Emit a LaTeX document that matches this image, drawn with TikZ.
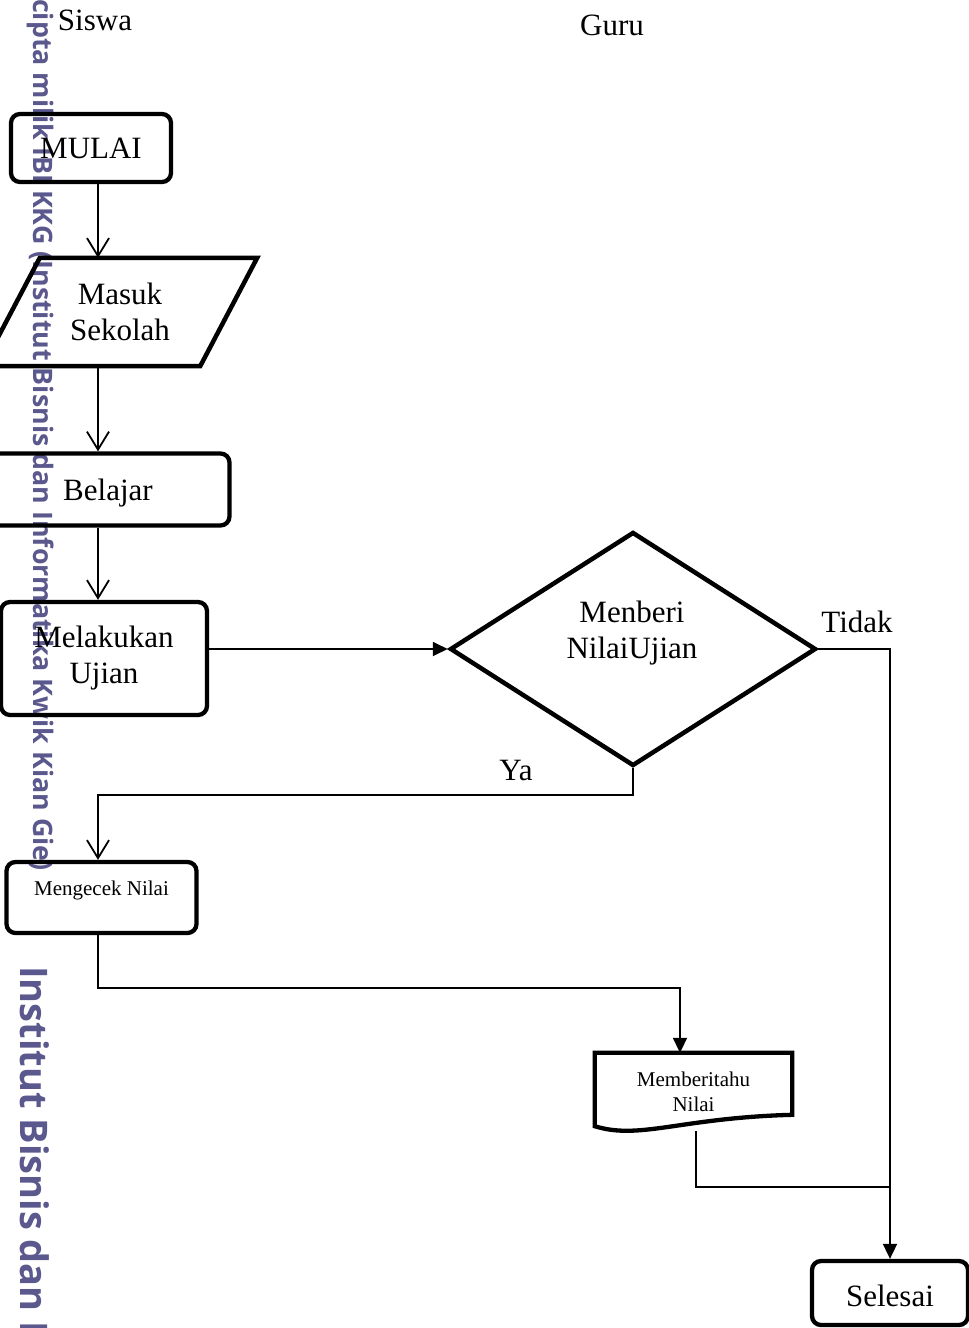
\documentclass[tikz,border=0pt]{standalone}
\usepackage{fontspec}
\setmainfont{Liberation Serif}
\newfontfamily\wmfont{Open Sans}
\usepackage{xcolor}
\usetikzlibrary{shapes.geometric,arrows.meta,positioning}
\definecolor{wmblue}{RGB}{90,88,140}

\tikzset{
  box/.style={draw, line width=4.3pt, rounded corners=9pt, align=center, inner sep=2pt},
  big/.style={font=\fontsize{31}{36}\selectfont},
  small/.style={font=\fontsize{21}{25}\selectfont},
  wm/.style={text=wmblue, rotate=-90, anchor=base west, inner sep=0pt},
  flow/.style={line width=1.8pt},
  vee/.style={flow, -{Straight Barb[length=18pt,width=22pt]}},
  tri/.style={flow, -{Triangle[length=15pt,width=14pt]}}
}

\begin{document}
\begin{tikzpicture}[x=1pt, y=-1pt]
    \useasboundingbox (0,0) rectangle (969,1328);

    % Watermark
    \node[wm, font=\wmfont\bfseries\fontsize{26.8}{27}\selectfont] (wmA) at (33,-1) {cipta milik IBI KKG (Institut Bisnis dan Informatika Kwik Kian Gie)};
    \node[wm, font=\wmfont\bfseries\fontsize{38}{38}\selectfont] (wmB) at (20,966) {Institut Bisnis dan I};

    % Lanes
    \node[big] (siswa) at (95,20) {Siswa};
    \node[big] (guru) at (612,25) {Guru};

    % Steps
    \node[box, big, minimum width=160pt, minimum height=68pt] (mulai) at (91,148) {MULAI};
    \node[big, minimum width=274pt, minimum height=108pt, align=center] (masuk) at (120,312) {Masuk\\Sekolah};
    \draw[line width=4.5pt] ([xshift=57pt]masuk.north west) -- (masuk.north east) -- ([xshift=-57pt]masuk.south east) -- (masuk.south west) -- cycle;
    \node[box, big, minimum width=243pt, minimum height=72pt, text depth=0pt] (belajar) at (108,489.5) {Belajar};
    \node[box, big, minimum width=206pt, minimum height=113pt] (ujian) at (104,658.5) {Melakukan\\Ujian};
    \node[draw, diamond, line width=4.5pt, minimum width=366pt, minimum height=234pt, inner sep=0pt] (nilai) at (633,649) {};
    \node[big, align=center] (nilaiText) at (632,633.5) {Menberi\\NilaiUjian};
    \node[box, small, minimum width=190pt, minimum height=71pt, text depth=18pt] (cek) at (101.5,897.5) {Mengecek Nilai};
    \node[small, minimum width=197pt, minimum height=78pt, align=center] (info) at (693.5,1092) {Memberitahu\\Nilai};
    \draw[line width=4.3pt] (info.north west) -- (info.north east) -- ++(0,62) .. controls +(-112,3) and +(45,14) .. ([yshift=5pt]info.south west) -- cycle;
    \node[box, big, minimum width=156pt, minimum height=64pt, text height=27pt, text depth=0pt] (selesai) at (890,1293) {Selesai};

    % Labels
    \node[big] (tidak) at (857,622) {Tidak};
    \node[big] (ya) at (516,770) {Ya};

    % Connectors
    \coordinate (colA) at (98,0);
    \coordinate (colB) at (680,0);
    \coordinate (colC) at (696,0);
    \coordinate (join) at (890,1187);
    \draw[vee] (mulai.south -| colA) -- (masuk.north -| colA);
    \draw[vee] (masuk.south -| colA) -- (belajar.north -| colA);
    \draw[vee] (belajar.south -| colA) -- (ujian.north -| colA);
    \draw[tri] (ujian.east |- nilai.west) -- (nilai.west);
    \draw[vee] (nilai.south) -- ++(0,27) -| (cek.north -| colA);
    \draw[tri] (cek.south -| colA) -- ++(0,53) -| (info.north -| colB);
    \draw[flow] (nilai.east) -| (join);
    \draw[flow] (info.south -| colC) |- (join);
    \draw[tri] (join) -- (selesai.north);
\end{tikzpicture}
\end{document}
